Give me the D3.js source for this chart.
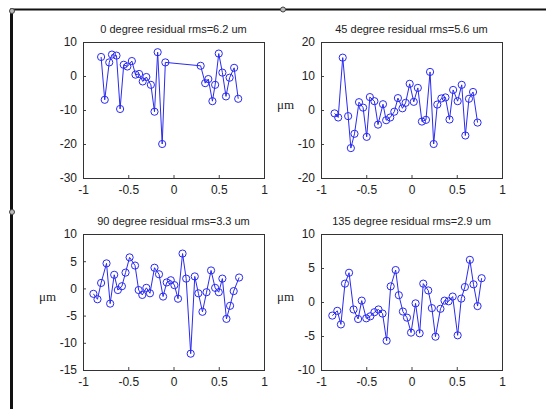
<!DOCTYPE html>
<html lang="en">
  <head>
    <meta charset="utf-8" />
    <title>Residuals</title>
    <style>
      body { margin: 0; background: #ffffff; }
      svg text { fill: #222; }
    </style>
  </head>
  <body>
    <div id="main"></div>
    <script src="https://d3js.org/d3.v7.min.js"></script>
    <script>
      // 0 degree
      var x0 = [-0.80, -0.76, -0.71, -0.68, -0.63, -0.59, -0.55, -0.51, -0.46, -0.42,
        -0.38, -0.34, -0.30, -0.25, -0.21, -0.175, -0.125, -0.09, 0.30, 0.35,
        0.385, 0.43, 0.46, 0.50, 0.54, 0.58, 0.62, 0.67, 0.715];
      var y0 = [5.6, -7.0, 4.0, 6.3, 6.0, -9.7, 3.3, 2.8, 4.4, 0.4,
        0.6, -1.6, -0.3, -2.6, -10.5, 7.0, -20.0, 4.0, 3.0, -2.1,
        -0.9, -7.4, -2.6, 6.6, 1.0, -6.0, -0.5, 2.4, -6.7];
      // 45 degree
      var x45 = [-0.85, -0.81, -0.76, -0.70, -0.67, -0.63, -0.58, -0.535, -0.495, -0.46,
        -0.41, -0.37, -0.315, -0.28, -0.235, -0.19, -0.15, -0.10, -0.065, -0.02,
        0.025, 0.07, 0.115, 0.16, 0.205, 0.245, 0.285, 0.33, 0.375, 0.42,
        0.46, 0.51, 0.555, 0.595, 0.635, 0.68, 0.73];
      var y45 = [-1.0, -2.2, 15.4, -1.8, -11.2, -7.0, 2.3, 0.7, -7.9, 3.8,
        2.6, -4.3, 1.7, -3.0, -2.2, -0.5, 3.5, 0.5, 2.1, 7.7,
        2.4, 6.5, -3.4, -2.9, 11.2, -10.0, 1.6, 3.4, 3.7, -2.8,
        5.9, 2.6, 7.4, -7.5, 3.3, 5.3, -3.7];
      // 90 degree
      var x90 = [-0.885, -0.84, -0.80, -0.74, -0.70, -0.655, -0.615, -0.57, -0.53, -0.485,
        -0.425, -0.385, -0.345, -0.30, -0.26, -0.21, -0.16, -0.115, -0.075, -0.03,
        0.01, 0.05, 0.10, 0.14, 0.19, 0.235, 0.275, 0.32, 0.365, 0.415,
        0.46, 0.50, 0.54, 0.585, 0.625, 0.665, 0.725];
      var y90 = [-1.0, -2.0, 1.0, 4.6, -2.8, 2.5, -0.3, 0.4, 2.9, 5.7,
        4.2, -0.3, -1.2, 0.1, -0.9, 3.8, 2.6, -1.5, 1.1, 1.5,
        0.6, -1.9, 6.4, 1.8, -12.0, 2.2, -0.9, -4.3, -0.7, 3.3,
        0.1, -0.7, 1.8, -5.6, -3.2, -0.5, 2.0];
      // 135 degree
      var x135 = [-0.875, -0.82, -0.78, -0.735, -0.69, -0.64, -0.59, -0.55, -0.50, -0.455,
        -0.41, -0.365, -0.32, -0.275, -0.23, -0.175, -0.14, -0.095, -0.05, -0.005,
        0.045, 0.09, 0.13, 0.185, 0.225, 0.265, 0.32, 0.365, 0.41, 0.455,
        0.51, 0.55, 0.59, 0.645, 0.685, 0.73, 0.775];
      var y135 = [-2.0, -1.3, -3.3, 2.7, 4.3, -1.1, -2.5, 0.2, -2.4, -2.1,
        -1.5, -1.1, -1.7, -5.7, 2.3, 4.7, 1.0, -1.4, -2.3, -4.5,
        -0.2, -4.6, 2.7, 1.7, -0.9, -5.1, -1.0, 0.2, 0.1, 0.8,
        -4.9, 0.5, 2.2, 6.2, 2.6, -0.6, 3.5];

      var titles = [
        "0 degree residual rms=6.2 um",
        "45 degree residual rms=5.6 um",
        "90 degree residual rms=3.3 um",
        "135 degree residual rms=2.9 um",
      ];
      var yDomains = [[-30, 10], [-20, 20], [-15, 10], [-10, 10]];
      var yTicks = [
        [-30, -20, -10, 0, 10],
        [-20, -10, 0, 10, 20],
        [-15, -10, -5, 0, 5, 10],
        [-10, -5, 0, 5, 10],
      ];
      var xTicks = [-1, -0.5, 0, 0.5, 1];
      var showUnit = [false, true, true, true];

      var panels = [
        { xs: x0, ys: y0, left: 83, top: 42 },
        { xs: x45, ys: y45, left: 321, top: 42 },
        { xs: x90, ys: y90, left: 83, top: 234 },
        { xs: x135, ys: y135, left: 321, top: 234 },
      ];
      var w = 181,
        h = 136;
      var sans = "'Liberation Sans', Arial, sans-serif";

      // plain hyphen minus like the original figure
      function fmt(d) {
        return String(d);
      }

      var svg = d3
        .select("#main")
        .append("svg")
        .attr("width", 546)
        .attr("height", 409);

      // outer frame (figure window edge)
      svg
        .append("line")
        .attr("x1", 10)
        .attr("x2", 546)
        .attr("y1", 9.5)
        .attr("y2", 9.5)
        .attr("stroke", "#111")
        .attr("stroke-width", 2);
      svg
        .append("line")
        .attr("x1", 11.5)
        .attr("x2", 11.5)
        .attr("y1", 9)
        .attr("y2", 409)
        .attr("stroke", "#111")
        .attr("stroke-width", 3);
      svg
        .selectAll("circle.handle")
        .data([[12, 11], [283, 9.5], [12, 212]])
        .enter()
        .append("circle")
        .attr("class", "handle")
        .attr("cx", function (d) { return d[0]; })
        .attr("cy", function (d) { return d[1]; })
        .attr("r", 2.5)
        .attr("fill", "#bbb")
        .attr("stroke", "#444")
        .attr("stroke-width", 1);

      panels.forEach(function (p, i) {
        var g = svg
          .append("g")
          .attr("transform", "translate(" + p.left + "," + p.top + ")");

        var x = d3.scaleLinear().domain([-1, 1]).range([0, w]);
        var y = d3.scaleLinear().domain(yDomains[i]).range([h, 0]);

        var xAxis = d3
          .axisBottom(x)
          .tickValues(xTicks)
          .tickSizeInner(-3)
          .tickSizeOuter(0)
          .tickPadding(7)
          .tickFormat(fmt);
        var yAxis = d3
          .axisLeft(y)
          .tickValues(yTicks[i])
          .tickSizeInner(-3)
          .tickSizeOuter(0)
          .tickPadding(6)
          .tickFormat(fmt);

        var gx = g
          .append("g")
          .attr("transform", "translate(0," + h + ")")
          .call(xAxis);
        var gy = g.append("g").call(yAxis);
        [gx, gy].forEach(function (a) {
          a.select(".domain").remove();
          a.selectAll("line").attr("stroke", "#444");
          a.selectAll("text")
            .attr("font-size", "12px")
            .style("font-family", sans)
            .attr("fill", "#222");
        });

        g.append("rect")
          .attr("x", 0.5)
          .attr("y", 0.5)
          .attr("width", w)
          .attr("height", h)
          .attr("fill", "none")
          .attr("stroke", "#333")
          .attr("stroke-width", 1);

        g.append("text")
          .attr("x", w / 2)
          .attr("y", -9)
          .attr("text-anchor", "middle")
          .attr("font-size", "11px")
          .style("font-family", sans)
          .text(titles[i]);

        if (showUnit[i]) {
          g.append("text")
            .attr("x", -44)
            .attr("y", h / 2 - 1)
            .attr("text-anchor", "start")
            .attr("font-size", "13px")
            .style("font-family", "'Liberation Serif', 'Times New Roman', serif")
            .text("\u03bcm");
        }

        var pts = p.xs.map(function (v, k) { return [v, p.ys[k]]; });
        var line = d3
          .line()
          .x(function (d) { return x(d[0]); })
          .y(function (d) { return y(d[1]); });

        g.append("path")
          .datum(pts)
          .attr("d", line)
          .attr("fill", "none")
          .attr("stroke", "#2a2af0")
          .attr("stroke-width", 1);

        g.selectAll("circle.pt")
          .data(pts)
          .enter()
          .append("circle")
          .attr("class", "pt")
          .attr("cx", function (d) { return x(d[0]); })
          .attr("cy", function (d) { return y(d[1]); })
          .attr("r", 3.6)
          .attr("fill", "none")
          .attr("stroke", "#2a2af0")
          .attr("stroke-width", 1);
      });
    </script>
  </body>
</html>
